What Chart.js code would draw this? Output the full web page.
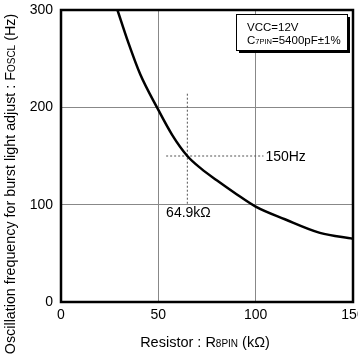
<!DOCTYPE html>
<html>
<head>
<meta charset="utf-8">
<script src="https://cdn.jsdelivr.net/npm/chart.js@4/dist/chart.umd.min.js"></script>
<style>
  html, body { margin: 0; padding: 0; background: #fff; }
  #wrap { width: 358px; height: 360px; }
</style>
</head>
<body>
<div id="wrap"><canvas id="oscChart"></canvas></div>
<script>
// curve: resistor (kOhm) -> frequency (Hz)
const resistor = [29, 34.5, 40.7, 49.3, 57, 64.9, 72, 80, 90, 100, 115, 133, 150];
const freq = [300, 267, 234, 200, 172, 150, 137, 125, 111, 98, 85, 71, 65];

// guide lines through the 64.9k / 150Hz point
const guideV = [{ x: 64.9, y: 214 }, { x: 64.9, y: 101 }];
const guideH = [{ x: 54, y: 150 }, { x: 104, y: 150 }];

const xTicks = [0, 50, 100, 150];
const yTicks = [0, 100, 200, 300];

const FONT = "'Liberation Sans', Arial, sans-serif";

// text with a small-caps style subscript chunk
function drawParts(ctx, parts, x, y) {
  let cx = x;
  parts.forEach(p => {
    ctx.font = p.size + "px " + FONT;
    ctx.fillText(p.text, cx, y);
    cx += ctx.measureText(p.text).width;
  });
  return cx - x;
}
function partsWidth(ctx, parts) {
  let w = 0;
  parts.forEach(p => {
    ctx.font = p.size + "px " + FONT;
    w += ctx.measureText(p.text).width;
  });
  return w;
}

const decor = {
  id: "decor",
  afterDraw(chart) {
    const ctx = chart.ctx;
    const a = chart.chartArea;
    const xs = chart.scales.x, ys = chart.scales.y;
    ctx.save();

    // frame
    ctx.strokeStyle = "#000";
    ctx.lineWidth = 2.5;
    ctx.strokeRect(a.left, a.top, a.right - a.left, a.bottom - a.top);

    ctx.fillStyle = "#000";
    ctx.textBaseline = "middle";

    // point labels
    ctx.font = "14px " + FONT;
    ctx.textAlign = "left";
    ctx.fillText("150Hz", xs.getPixelForValue(105), ys.getPixelForValue(150) + 1);
    ctx.fillText("64.9k\u03A9", xs.getPixelForValue(54), ys.getPixelForValue(91));

    // condition box
    const bx = 236, by = 14, bw = 111, bh = 36;
    ctx.fillStyle = "#000";
    ctx.fillRect(bx + 3, by + 3, bw, bh);
    ctx.fillStyle = "#fff";
    ctx.fillRect(bx, by, bw, bh);
    ctx.strokeStyle = "#000";
    ctx.lineWidth = 1;
    ctx.strokeRect(bx + 0.5, by + 0.5, bw, bh);
    ctx.fillStyle = "#000";
    ctx.textBaseline = "alphabetic";
    drawParts(ctx, [{ text: "VCC=12V", size: 11.5 }], bx + 11, by + 17);
    drawParts(ctx, [{ text: "C", size: 11.5 }, { text: "7PIN", size: 7.5 }, { text: "=5400pF\u00B11%", size: 11.5 }], bx + 11, by + 30);

    // x title
    const xt = [{ text: "Resistor : R", size: 14.5 }, { text: "8PIN", size: 10 }, { text: " (k\u03A9)", size: 14.5 }];
    const xw = partsWidth(ctx, xt);
    drawParts(ctx, xt, 205 - xw / 2, 347);

    // y title
    const yt = [{ text: "Oscillation frequency for burst light adjust : F", size: 14.3 }, { text: "OSCL", size: 10 }, { text: " (Hz)", size: 14.3 }];
    const yw = partsWidth(ctx, yt);
    ctx.translate(15, 184);
    ctx.rotate(-Math.PI / 2);
    drawParts(ctx, yt, -yw / 2, 0);

    ctx.restore();
  }
};

new Chart(document.getElementById("oscChart"), {
  type: "scatter",
  data: {
    datasets: [
      {
        data: resistor.map((r, i) => ({ x: r, y: freq[i] })),
        showLine: true,
        borderColor: "#000",
        borderWidth: 2.5,
        pointRadius: 0,
        cubicInterpolationMode: "monotone",
        fill: false
      },
      {
        data: guideV,
        showLine: true,
        borderColor: "#555",
        borderWidth: 1,
        borderDash: [2, 2],
        pointRadius: 0
      },
      {
        data: guideH,
        showLine: true,
        borderColor: "#555",
        borderWidth: 1,
        borderDash: [2, 2],
        pointRadius: 0
      }
    ]
  },
  options: {
    responsive: true,
    maintainAspectRatio: false,
    animation: false,
    layout: { padding: { top: 10, right: 5, left: 0, bottom: 0 } },
    plugins: { legend: { display: false }, tooltip: { enabled: false } },
    scales: {
      x: {
        type: "linear",
        min: 0,
        max: 150,
        afterBuildTicks: s => { s.ticks = xTicks.map(v => ({ value: v })); },
        afterFit: s => { s.height = 58; s.paddingLeft = 0; s.paddingRight = 0; },
        grid: { color: "#888", lineWidth: 1, drawTicks: false },
        border: { display: false },
        ticks: { color: "#000", font: { family: FONT, size: 14 }, padding: 5, maxRotation: 0 }
      },
      y: {
        type: "linear",
        min: 0,
        max: 300,
        afterBuildTicks: s => { s.ticks = yTicks.map(v => ({ value: v })); },
        afterFit: s => { s.width = 61; s.paddingTop = 0; s.paddingBottom = 0; },
        grid: { color: "#888", lineWidth: 1, drawTicks: false },
        border: { display: false },
        ticks: { color: "#000", font: { family: FONT, size: 14 }, padding: 8 }
      }
    }
  },
  plugins: [decor]
});
</script>
</body>
</html>
